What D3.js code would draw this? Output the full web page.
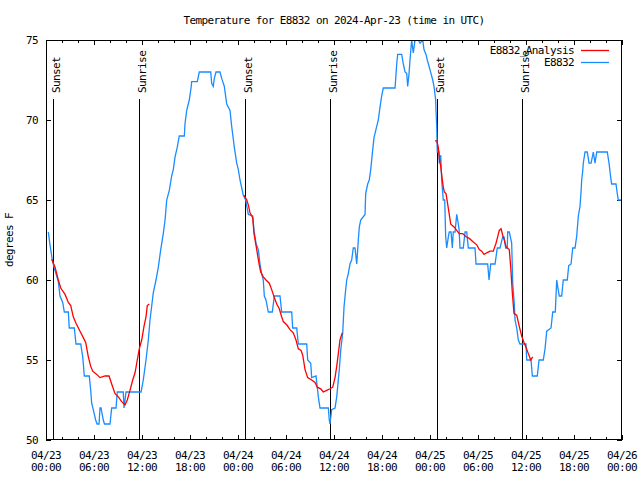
<!DOCTYPE html>
<html>
<head>
<meta charset="utf-8">
<script src="https://cdn.jsdelivr.net/npm/d3@7"></script>
<style>
body { margin: 0; background: #fff; }
text { font-family: "DejaVu Sans Mono", monospace; font-size: 11px; letter-spacing: -0.6px; fill: #000; }
.crisp { shape-rendering: crispEdges; }
</style>
</head>
<body>
<script>
// hours since 2024-04-23 00:00 UTC, and temperatures in degrees F
var obsHour = [0.29,0.5,0.79,1.0,1.54,1.75,2.09,2.29,2.79,2.91,3.54,3.75,4.34,4.59,4.79,5.41,5.59,5.71,5.91,6.21,6.38,6.63,6.75,6.88,7.16,7.31,8.0,8.21,8.75,8.91,9.66,9.75,10.0,11.88,12.16,12.5,12.79,13.0,13.41,13.75,14.04,14.34,14.66,14.88,15.09,15.41,15.71,15.91,16.13,16.41,16.66,17.29,17.38,17.59,17.91,18.13,18.21,18.91,19.16,20.59,20.71,20.91,21.04,21.25,21.75,21.96,22.29,22.59,23.0,23.21,23.54,23.84,24.04,24.25,24.66,24.96,25.29,25.84,26.0,26.25,26.54,26.75,26.96,27.16,27.29,27.5,27.79,28.29,28.54,29.25,29.46,30.71,30.84,31.34,31.54,32.59,32.71,33.09,33.21,33.75,33.91,34.04,34.25,35.29,35.41,35.5,35.71,36.13,36.34,36.66,36.84,37.09,37.25,37.46,37.59,37.79,38.0,38.21,38.41,38.63,38.84,38.91,39.04,39.16,39.34,39.88,39.96,40.21,40.41,40.59,40.79,41.0,41.34,41.54,41.75,41.96,42.16,43.63,43.84,43.96,44.46,44.66,44.88,45.09,45.21,45.38,45.5,45.71,45.91,46.13,46.54,46.75,47.09,47.25,47.5,47.66,47.91,48.13,48.34,48.5,48.71,48.75,48.84,48.91,49.13,49.16,49.34,49.46,49.66,49.84,49.96,50.09,50.29,50.41,50.63,50.79,50.91,51.13,51.34,51.46,51.63,51.75,52.16,52.38,52.59,52.79,53.63,53.75,55.21,55.38,55.59,56.13,56.41,56.75,57.09,57.25,57.46,57.66,57.71,57.91,58.21,58.34,58.54,58.63,58.84,59.04,59.25,60.0,60.09,60.63,60.79,61.41,61.63,62.16,62.38,62.59,63.13,63.34,63.66,63.84,63.96,64.16,64.46,64.66,65.16,65.34,65.63,65.84,66.13,66.34,66.54,66.75,66.88,66.96,67.09,67.16,67.38,67.66,67.88,68.13,68.34,68.41,68.63,68.84,70.16,70.38,70.59,70.71,71.25,71.41,71.54,71.91];
var obsTemp = [63.0,62.2,61.25,60.8,59.9,59.0,58.6,58.0,58.0,57.0,57.0,56.0,56.0,55.2,54.0,54.0,53.1,52.3,51.9,51.25,51.0,51.0,52.0,52.0,51.25,51.0,51.0,52.0,52.0,53.0,53.0,52.0,53.0,53.0,53.75,55.0,56.25,57.5,59.2,60.0,60.8,61.9,62.9,63.75,65.0,65.6,66.5,66.9,67.7,68.3,69.0,69.0,69.8,70.6,71.25,72.0,72.4,72.4,73.0,73.0,72.3,72.1,72.6,73.0,73.0,72.6,72.1,71.0,70.6,69.6,68.3,67.3,66.9,66.25,65.3,65.0,64.1,64.0,63.1,62.3,61.9,61.0,60.4,60.0,59.0,58.75,58.0,58.0,59.0,59.0,58.0,58.0,57.0,57.0,56.0,56.0,55.0,54.8,53.9,54.0,53.3,52.7,52.0,52.0,51.25,51.0,51.9,52.0,52.7,54.4,55.6,56.7,58.3,59.4,60.0,60.4,61.0,61.25,62.0,62.0,61.0,61.5,62.5,63.3,63.75,64.1,65.4,66.0,66.25,66.9,67.9,68.9,69.6,70.0,70.8,71.5,72.0,72.0,73.5,74.1,74.1,73.5,73.0,72.9,72.1,72.9,73.75,75.0,74.2,75.0,75.0,74.8,75.0,74.4,74.1,73.75,73.3,72.9,72.5,72.1,71.25,70.6,69.6,68.0,68.0,67.3,67.8,66.25,65.0,65.0,62.7,62.0,62.7,63.0,63.0,62.0,63.0,63.0,64.1,63.75,63.2,62.0,62.0,63.0,63.0,62.0,62.0,61.0,61.0,60.0,61.0,61.0,62.0,62.0,62.7,62.7,62.0,62.0,63.0,63.0,62.3,59.8,58.5,57.5,57.0,56.25,56.0,56.0,55.0,55.0,54.0,54.0,55.0,55.0,55.7,56.8,57.0,58.0,58.0,60.0,59.6,59.0,59.0,60.0,60.0,60.9,61.0,62.0,62.0,62.75,64.0,64.6,65.5,66.25,66.8,67.3,68.0,68.0,67.3,67.3,67.8,68.0,67.3,68.0,68.0,67.3,66.4,66.0,66.0,65.4,65.0,65.0];

// analysis runs in three pieces; null marks a gap
var anaHour = [0.71,1.13,1.54,1.84,2.38,2.79,3.09,3.41,3.75,4.25,4.66,4.96,5.29,5.59,5.84,6.34,6.75,7.38,7.88,8.21,8.63,9.04,9.46,9.88,10.16,10.5,10.84,11.13,11.41,11.66,11.96,12.25,12.5,12.66,12.91,
  null,
  24.75,25.09,25.29,25.5,25.84,26.0,26.34,26.63,26.84,27.16,27.5,27.91,28.21,28.54,28.84,29.16,29.46,29.66,30.09,30.5,30.91,31.25,31.54,31.88,32.09,32.38,32.71,33.21,33.63,33.91,34.34,34.66,35.09,35.5,35.84,36.13,36.34,36.54,36.75,37.04,
  null,
  48.63,48.84,49.04,49.16,49.34,49.54,49.66,49.79,50.0,50.16,50.38,50.59,50.79,51.04,51.34,51.66,52.09,52.5,52.91,53.34,53.84,54.16,54.46,54.75,55.09,55.5,55.91,56.25,56.46,56.66,56.88,57.09,57.29,57.5,57.66,57.91,58.09,58.29,58.5,58.84,59.16,59.46,59.75,60.0,60.29,60.59,60.71,60.84];
var anaTemp = [61.3,60.8,60.0,59.5,59.1,58.6,58.4,57.7,57.3,56.8,56.4,56.1,55.2,54.6,54.3,54.1,53.9,54.0,54.0,53.5,52.9,52.7,52.4,52.2,52.5,53.1,53.75,54.2,55.0,55.7,56.25,57.1,57.7,58.4,58.5,
  null,
  65.3,65.0,64.7,64.2,63.9,62.9,61.9,61.0,60.5,60.2,60.0,59.8,59.4,58.9,58.5,58.2,57.7,57.4,57.2,56.9,56.7,56.25,55.7,55.6,55.3,54.4,53.9,53.75,53.6,53.3,53.2,53.0,53.1,53.2,53.3,53.9,54.6,55.4,56.25,56.7,
  null,
  68.7,68.7,68.3,67.6,67.1,66.25,65.8,65.5,65.4,64.9,64.2,63.5,63.4,63.3,63.1,62.9,62.9,62.7,62.6,62.4,62.2,61.9,61.8,61.6,61.7,61.8,61.8,62.3,62.7,63.1,63.2,62.8,62.5,62.1,62.0,61.9,60.8,59.2,57.9,57.8,57.1,56.5,56.1,55.8,55.4,55.0,55.1,55.2];

var eventHour = [0.91, 11.62, 24.87, 35.56, 48.9, 59.54];
var eventName = ["Sunset", "Sunrise", "Sunset", "Sunrise", "Sunset", "Sunrise"];
var yTicks = [50, 55, 60, 65, 70, 75];

var start = Date.UTC(2024, 3, 23);
function toDate(h) { return new Date(start + h * 3600e3); }

var margin = {top: 40, right: 18, bottom: 40, left: 46},
    width = 640 - margin.left - margin.right,
    height = 480 - margin.top - margin.bottom;

var xScale = d3.scaleUtc()
    .domain([toDate(0), toDate(72)])
    .range([0, width]);

var yScale = d3.scaleLinear()
    .domain([50, 75])
    .range([height, 0]);

var svg = d3.select("body")
    .append("svg")
    .attr("width", 640)
    .attr("height", 480)
    .append("g")
    .attr("transform", "translate(" + margin.left + "," + margin.top + ")");

svg.append("defs").append("clipPath").attr("id", "clip")
    .append("rect").attr("width", width).attr("height", height);

var major = d3.utcHour.every(6).range(toDate(0), toDate(72.01));
var minor = d3.utcHour.every(2).range(toDate(0), toDate(72.01));

// inward ticks, mirrored on the top and right like gnuplot
function tickAxis(axis, cls) {
    var g = svg.append("g").attr("class", cls + " crisp").call(axis);
    g.select(".domain").remove();
    g.selectAll("line").attr("stroke", "#000");
    g.selectAll("text").remove();
    return g;
}
tickAxis(d3.axisBottom(xScale).tickValues(minor).tickSize(-3), "xminor")
    .attr("transform", "translate(0," + height + ")");
tickAxis(d3.axisTop(xScale).tickValues(minor).tickSize(-3), "xminor");
tickAxis(d3.axisBottom(xScale).tickValues(major).tickSize(-5), "xmajor")
    .attr("transform", "translate(0," + height + ")");
tickAxis(d3.axisTop(xScale).tickValues(major).tickSize(-5), "xmajor");
tickAxis(d3.axisLeft(yScale).tickValues(yTicks).tickSize(-5), "yleft");
tickAxis(d3.axisRight(yScale).tickValues(yTicks).tickSize(-5), "yright")
    .attr("transform", "translate(" + width + ",0)");

// tick labels
var fmtDay = d3.utcFormat("%m/%d"), fmtTime = d3.utcFormat("%H:%M");
var xl = svg.append("g").selectAll("text.xl").data(major).enter();
xl.append("text")
    .attr("x", function(d) { return xScale(d); })
    .attr("y", height + 19)
    .attr("text-anchor", "middle")
    .text(function(d) { return fmtDay(d); });
xl.append("text")
    .attr("x", function(d) { return xScale(d); })
    .attr("y", height + 31)
    .attr("text-anchor", "middle")
    .text(function(d) { return fmtTime(d); });

svg.append("g").selectAll("text").data(yTicks).enter().append("text")
    .attr("x", -8)
    .attr("y", function(d) { return yScale(d) + 4; })
    .attr("text-anchor", "end")
    .text(function(d) { return d; });

// sunrise / sunset markers
eventHour.forEach(function(h, i) {
    var x = Math.round(xScale(toDate(h))) + 0.5;
    svg.append("line")
        .attr("class", "crisp")
        .attr("x1", x).attr("x2", x)
        .attr("y1", 59).attr("y2", height)
        .attr("stroke", "#000").attr("stroke-width", 1);
    svg.append("text")
        .attr("transform", "translate(" + x + ",53) rotate(-90)")
        .attr("dy", "6.5px")
        .text(eventName[i]);
});

var line = d3.line()
    .defined(function(d) { return d[0] != null; })
    .x(function(d) { return xScale(toDate(d[0])); })
    .y(function(d) { return yScale(d[1]); });

var obs = obsHour.map(function(h, i) { return [h, obsTemp[i]]; });
var ana = anaHour.map(function(h, i) { return [h, anaTemp[i]]; });

var plot = svg.append("g").attr("clip-path", "url(#clip)");
plot.append("path").datum(obs)
    .attr("d", line)
    .attr("fill", "none")
    .attr("stroke", "#1a8cff")
    .attr("stroke-width", 1.3);
plot.append("path").datum(ana)
    .attr("d", line)
    .attr("fill", "none")
    .attr("stroke", "#ff0000")
    .attr("stroke-width", 1.3);

// frame
svg.append("rect")
    .attr("class", "crisp")
    .attr("x", 0.5).attr("y", 0.5)
    .attr("width", width - 1).attr("height", height - 1)
    .attr("fill", "none").attr("stroke", "#000").attr("stroke-width", 1);

// legend
var legend = [["E8832_Analysis", "#ff0000"], ["E8832", "#1a8cff"]];
legend.forEach(function(l, i) {
    svg.append("text")
        .attr("x", 528)
        .attr("y", 13.5 + i * 12.5)
        .attr("text-anchor", "end")
        .text(l[0]);
    svg.append("line")
        .attr("x1", 535).attr("x2", 563)
        .attr("y1", 10.5 + i * 12).attr("y2", 10.5 + i * 12)
        .attr("stroke", l[1]).attr("stroke-width", 1.3);
});

// title and y label
svg.append("text")
    .attr("x", width / 2)
    .attr("y", -16)
    .attr("text-anchor", "middle")
    .text("Temperature for E8832 on 2024-Apr-23 (time in UTC)");

svg.append("text")
    .attr("transform", "translate(-33," + (height / 2) + ") rotate(-90)")
    .attr("text-anchor", "middle")
    .text("degrees F");
</script>
</body>
</html>
